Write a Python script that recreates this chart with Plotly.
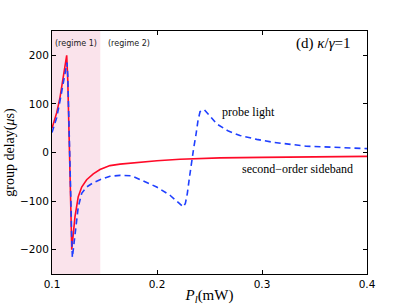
import plotly.graph_objects as go

# ---- data ----
x_red = [0.1000, 0.1045, 0.1076, 0.1108, 0.1130, 0.1140, 0.1150, 0.1158, 0.1166, 0.1175,
         0.1182, 0.1188, 0.1200, 0.1219, 0.1250, 0.1283, 0.1330, 0.1393, 0.1457, 0.1552,
         0.1648, 0.1838, 0.2000, 0.2219, 0.2600, 0.3000, 0.3500, 0.4000]
y_red = [50, 82, 113, 157, 192, 200, 150, 90, 20, -60,
         -140, -200, -175, -132, -91, -71, -56, -44, -35, -27,
         -24, -20, -17, -14, -11, -10, -9, -8]

x_blue = [0.1000, 0.1045, 0.1076, 0.1108, 0.1133, 0.1143, 0.1150, 0.1160, 0.1170, 0.1180,
          0.1188, 0.1194, 0.1200, 0.1219, 0.1250, 0.1283, 0.1330, 0.1393, 0.1457, 0.1552,
          0.1648, 0.1760, 0.1838, 0.1997, 0.2124, 0.2200, 0.2250, 0.2270, 0.2289, 0.2310,
          0.2330, 0.2350, 0.2370, 0.2390, 0.2410, 0.2450, 0.2500, 0.2568, 0.2680, 0.2790,
          0.2950, 0.3105, 0.3420, 0.3700, 0.4000]
y_blue = [41, 72, 106, 147, 181, 185, 160, 90, 0, -100,
          -180, -216, -205, -173, -112, -84, -71, -62, -56, -49,
          -47, -48, -56, -71, -88, -102, -112, -105, -84, -50,
          -16, 10, 35, 65, 84, 88, 76, 59, 44, 35,
          27, 21, 13, 10, 8]

regime1_range = [0.1, 0.146]
x_ticks = [0.1, 0.2, 0.3, 0.4]
x_ticktext = ["0.1", "0.2", "0.3", "0.4"]
y_ticks = [-200, -100, 0, 100, 200]
y_ticktext = ["\u2212200", "\u2212100", "0", "100", "200"]

SERIF = "Liberation Serif, DejaVu Serif, serif"
SANS = "DejaVu Sans, sans-serif"

W, H = 407, 305
L, R, T, B = 52, 40, 31, 31
PW, PH = W - L - R, H - T - B

fig = go.Figure()
fig.add_trace(go.Scatter(x=x_red, y=y_red, mode="lines",
                         line=dict(color="#ff0a28", width=1.6), showlegend=False))
fig.add_trace(go.Scatter(x=x_blue, y=y_blue, mode="lines",
                         line=dict(color="#1f3fff", width=1.6, dash="6px,4px"),
                         showlegend=False))

fig.add_shape(type="rect", xref="x", yref="y",
              x0=regime1_range[0], x1=regime1_range[1], y0=-250, y1=250,
              fillcolor="#fae3eb", line=dict(width=0), layer="below")

axis_common = dict(ticks="inside", ticklen=4, tickwidth=1, tickcolor="black",
                   showline=True, linecolor="black", linewidth=1, mirror="ticks",
                   showgrid=False, zeroline=False, automargin=False,
                   tickfont=dict(family=SANS, size=10.5, color="black"))

fig.update_xaxes(range=[0.1, 0.4], tickvals=x_ticks, ticktext=x_ticktext,
                 title=dict(text="<i>P</i><sub><i>l</i></sub>(mW)",
                            font=dict(family=SERIF, size=15, color="black"), standoff=2),
                 **axis_common)
fig.update_yaxes(range=[-250, 250], tickvals=y_ticks, ticktext=y_ticktext,
                 title=dict(text="group delay(<i>\u03bc</i>s)",
                            font=dict(family=SERIF, size=14, color="black"), standoff=2),
                 **axis_common)

ann_small = dict(family=SANS, size=8, color="#222222")
annots = [
    (75.5, 43, "(regime 1)", ann_small),
    (129, 43, "(regime 2)", ann_small),
    (323, 44, "(d) <i>\u03ba</i>/<i>\u03b3</i>=1", dict(family=SERIF, size=15, color="black")),
    (248.5, 112, "probe light", dict(family=SERIF, size=12, color="black")),
    (297.5, 169, "second\u2212order sideband", dict(family=SERIF, size=12, color="black")),
]
for px, py, text, font in annots:
    fig.add_annotation(x=(px - L) / PW, y=(H - B - py) / PH, xref="paper", yref="paper",
                       text=text, showarrow=False, font=font,
                       xanchor="center", yanchor="middle")

fig.update_layout(width=W, height=H, margin=dict(l=L, r=R, t=T, b=B),
                  paper_bgcolor="white", plot_bgcolor="white")

fig.write_html("out.html", config={"displayModeBar": False},
               post_script="document.body.style.margin='0';document.body.style.padding='0';")
